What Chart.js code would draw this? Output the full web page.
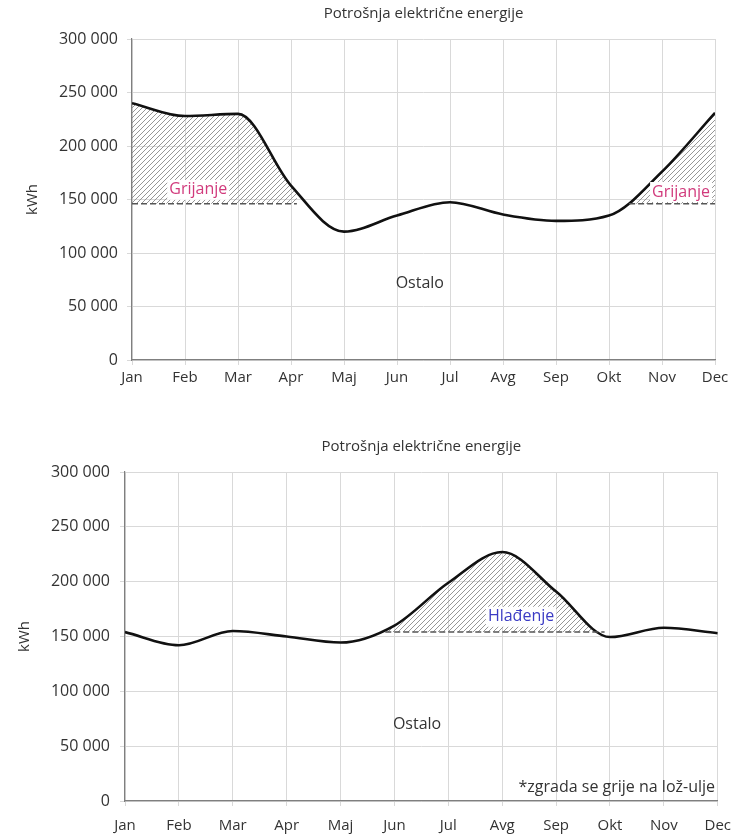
<!DOCTYPE html>
<html lang="hr">
<head>
  <meta charset="UTF-8" />
  <title>Potrošnja električne energije</title>
  <script src="https://cdn.jsdelivr.net/npm/chart.js"></script>
  <style>
    body { margin: 0; background: #fff; }
    .wrap { position: absolute; left: 0; width: 742px; }
    #topWrap { top: 0; height: 392px; }
    #bottomWrap { top: 420px; height: 419px; }
  </style>
</head>
<body>
  <div class="wrap" id="topWrap"><canvas id="chartTop"></canvas></div>
  <div class="wrap" id="bottomWrap"><canvas id="chartBottom"></canvas></div>

  <script>
    const months = ['Jan', 'Feb', 'Mar', 'Apr', 'Maj', 'Jun', 'Jul', 'Avg', 'Sep', 'Okt', 'Nov', 'Dec'];
    const yMax = 300000;
    const yStep = 50000;

    // gornji graf - grijanje na struju
    const heatingUse = [240000, 228000, 230000, 163000, 120000, 135000, 147500, 136000, 130000, 135000, 176000, 231000];
    const heatingBase = 146000;
    const heatingBaseSpans = [[0, 3.11], [9.38, 11]];

    // donji graf - hlađenje
    const coolingUse = [154000, 142000, 155000, 150000, 144500, 160000, 199000, 227000, 191000, 149500, 158000, 153000];
    const coolingBase = 154000;
    const coolingBaseSpans = [[4.83, 8.9]];

    const topNotes = [
      { text: 'Grijanje', x: 1.25, y: 159000, color: '#d13a7c', bg: true },
      { text: 'Grijanje', x: 10.36, y: 157000, color: '#d13a7c', bg: true },
      { text: 'Ostalo', x: 5.43, y: 72000, color: '#333333' }
    ];
    const bottomNotes = [
      { text: 'Hlađenje', x: 7.35, y: 168000, color: '#3b3bc4', bg: true },
      { text: 'Ostalo', x: 5.42, y: 70000, color: '#333333' },
      { text: '*zgrada se grije na lož-ulje', x: 10.95, y: 12000, color: '#333333', align: 'right' }
    ];

    const FONT = "'Open Sans', sans-serif";

    function makeHatch() {
      const c = document.createElement('canvas');
      c.width = 5; c.height = 5;
      const g = c.getContext('2d');
      g.strokeStyle = '#8a8a8a';
      g.lineWidth = 0.9;
      g.beginPath();
      g.moveTo(0, 5); g.lineTo(5, 0);
      g.moveTo(-1, 1); g.lineTo(1, -1);
      g.moveTo(4, 6); g.lineTo(6, 4);
      g.stroke();
      return g.createPattern(c, 'repeat');
    }

    function spacedNumber(v) {
      return String(v).replace(/\B(?=(\d{3})+(?!\d))/g, ' ');
    }

    function baseLinePoints(value, spans) {
      const pts = [];
      spans.forEach((s, i) => {
        if (i > 0) pts.push({ x: (spans[i - 1][1] + s[0]) / 2, y: null });
        pts.push({ x: s[0], y: value }, { x: s[1], y: value });
      });
      return pts;
    }

    // šrafura između krivulje i isprekidane linije, samo unutar raspona
    const hatchPlugin = {
      id: 'hatch',
      beforeDatasetsDraw(chart, args, opts) {
        const { ctx, chartArea: a, scales } = chart;
        const line = chart.getDatasetMeta(1).dataset;
        const pts = chart.getDatasetMeta(1).data;
        const baseY = scales.y.getPixelForValue(opts.base);
        ctx.save();
        ctx.beginPath();
        opts.spans.forEach(([s, e]) => {
          const x0 = scales.x.getPixelForValue(s);
          const x1 = scales.x.getPixelForValue(e);
          ctx.rect(x0, a.top, x1 - x0, baseY - a.top);
        });
        ctx.clip();
        ctx.beginPath();
        line.path(ctx);
        ctx.lineTo(pts[pts.length - 1].x, a.bottom);
        ctx.lineTo(pts[0].x, a.bottom);
        ctx.closePath();
        ctx.fillStyle = opts.pattern;
        ctx.fill();
        ctx.restore();
      }
    };

    const notesPlugin = {
      id: 'notes',
      afterDatasetsDraw(chart, args, opts) {
        const { ctx, scales } = chart;
        ctx.save();
        ctx.font = '16px ' + FONT;
        ctx.textBaseline = 'middle';
        opts.items.forEach(n => {
          const px = scales.x.getPixelForValue(n.x);
          const py = scales.y.getPixelForValue(n.y);
          const w = ctx.measureText(n.text).width;
          const align = n.align || 'center';
          const left = align === 'right' ? px - w : px - w / 2;
          if (n.bg) {
            ctx.fillStyle = '#ffffff';
            ctx.fillRect(left - 2, py - 10, w + 4, 20);
          }
          ctx.fillStyle = n.color;
          ctx.textAlign = 'left';
          ctx.fillText(n.text, left, py);
        });
        ctx.restore();
      }
    };

    function buildChart(id, cfg) {
      return new Chart(document.getElementById(id), {
        type: 'line',
        data: {
          datasets: [
            {
              data: baseLinePoints(cfg.base, cfg.spans),
              borderColor: '#555555',
              borderWidth: 1.5,
              borderDash: [6, 3],
              pointRadius: 0,
              spanGaps: false,
              fill: false
            },
            {
              data: cfg.values.map((v, i) => ({ x: i, y: v })),
              borderColor: '#111111',
              borderWidth: 2.6,
              pointRadius: 0,
              cubicInterpolationMode: 'monotone',
              fill: false
            }
          ]
        },
        options: {
          responsive: true,
          maintainAspectRatio: false,
          animation: false,
          layout: { padding: { left: 0, right: cfg.padRight, top: 0, bottom: 0 } },
          plugins: {
            legend: { display: false },
            tooltip: { enabled: false },
            title: {
              display: true,
              text: 'Potrošnja električne energije',
              color: '#333333',
              fullSize: false,
              font: { family: FONT, size: 15, weight: 'normal' },
              padding: cfg.titlePad
            },
            hatch: { base: cfg.base, spans: cfg.spans, pattern: makeHatch() },
            notes: { items: cfg.notes }
          },
          scales: {
            x: {
              type: 'linear',
              min: 0,
              max: 11,
              afterFit: s => { s.height = cfg.xHeight; },
              ticks: {
                stepSize: 1,
                autoSkip: false,
                maxRotation: 0,
                color: '#333333',
                padding: cfg.xTickPad,
                font: { family: FONT, size: 15 },
                callback: v => months[v]
              },
              grid: { color: '#d9d9d9', tickLength: 5 },
              border: { color: '#7f7f7f', width: 1.2 }
            },
            y: {
              min: 0,
              max: yMax,
              afterFit: s => { s.width = cfg.yWidth; },
              ticks: {
                stepSize: yStep,
                color: '#333333',
                padding: cfg.yTickPad,
                font: { family: FONT, size: 16 },
                callback: v => spacedNumber(v)
              },
              grid: { color: '#d9d9d9', tickLength: 5 },
              border: { color: '#7f7f7f', width: 1.2 },
              title: {
                display: true,
                text: 'kWh',
                color: '#333333',
                font: { family: FONT, size: 15 },
                padding: { top: cfg.kwhPad, bottom: 0 }
              }
            }
          }
        },
        plugins: [hatchPlugin, notesPlugin]
      });
    }

    buildChart('chartTop', {
      values: heatingUse,
      base: heatingBase,
      spans: heatingBaseSpans,
      notes: topNotes,
      padRight: 27,
      yWidth: 132,
      xHeight: 32,
      xTickPad: 4,
      yTickPad: 9,
      kwhPad: 24,
      titlePad: { top: 5, bottom: 16 }
    });

    buildChart('chartBottom', {
      values: coolingUse,
      base: coolingBase,
      spans: coolingBaseSpans,
      notes: bottomNotes,
      padRight: 19,
      yWidth: 125,
      xHeight: 38,
      xTickPad: 11,
      yTickPad: 10,
      kwhPad: 16,
      titlePad: { top: 18, bottom: 16 }
    });
  </script>
</body>
</html>
